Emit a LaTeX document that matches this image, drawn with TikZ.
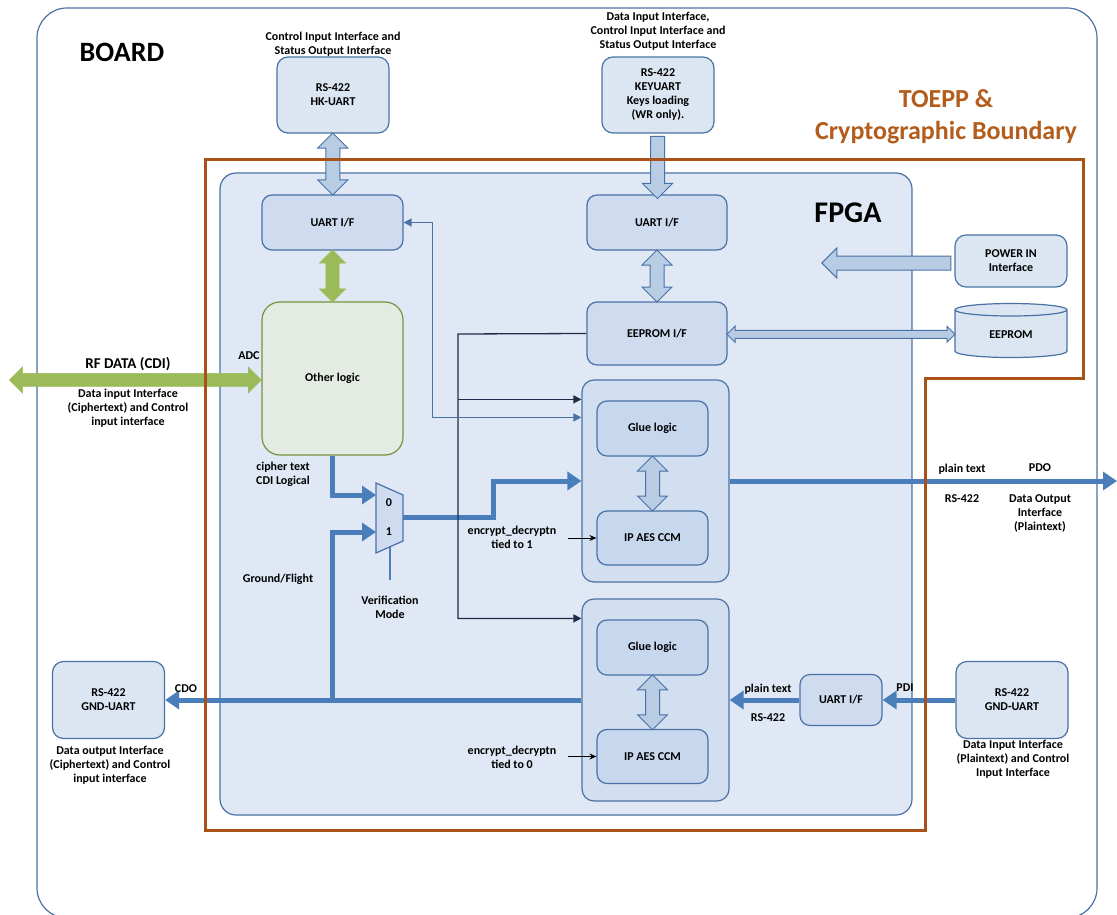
\documentclass[tikz,border=0pt]{standalone}
\usepackage{fontspec}
\setmainfont{Carlito}
\usepackage{tikz}
\usetikzlibrary{positioning, shapes.geometric, shapes.arrows, arrows.meta, calc}
\definecolor{bdBlue}{HTML}{4A72A6}
\definecolor{bdFill}{HTML}{DCE6F2}
\definecolor{bdFpga}{HTML}{DFE8F4}
\definecolor{bdIf}{HTML}{CFDCEF}
\definecolor{bdCrypto}{HTML}{D2DFF0}
\definecolor{bdGlue}{HTML}{C6D7EE}
\definecolor{bdBus}{HTML}{4A7EBB}
\definecolor{bdHollow}{HTML}{B8CCE4}
\definecolor{bdGreen}{HTML}{9BBB59}
\definecolor{bdOther}{HTML}{E3EBE3}
\definecolor{bdOtherLine}{HTML}{77933C}
\definecolor{bdOrange}{HTML}{A8521A}
\definecolor{bdOrangeText}{HTML}{B35C1C}
\definecolor{bdCtl}{HTML}{1F2D4A}
\newcommand{\lblfont}{\bfseries\fontsize{12}{14}\selectfont}
\tikzset{
  extbox/.style={
    rectangle, rounded corners=11pt,
    draw=bdBlue, line width=1.2pt,
    fill=bdFill,
    inner sep=2pt,
    minimum width=112pt, minimum height=76pt,
    align=center, font=\lblfont
  },
  ifbox/.style={
    rectangle, rounded corners=10pt,
    draw=bdBlue, line width=1.2pt,
    fill=bdIf,
    inner sep=2pt,
    minimum width=140pt, minimum height=55pt,
    align=center, font=\lblfont
  },
  cryptobox/.style={
    rectangle, rounded corners=12pt,
    draw=bdBlue, line width=1.2pt,
    fill=bdCrypto,
    minimum width=147pt, minimum height=202pt
  },
  gluebox/.style={
    rectangle, rounded corners=10pt,
    draw=bdBlue, line width=1.2pt,
    fill=bdGlue,
    minimum width=111pt, minimum height=55pt,
    align=center, font=\lblfont
  },
  lbl/.style={align=center, font=\lblfont, inner sep=0pt},
  hollowdbl/.style={
    double arrow, draw=bdBlue, fill=bdHollow, line width=1pt,
    inner xsep=0pt, inner ysep=6.5pt, double arrow head extend=8pt,
    minimum height=#1
  },
  hollowone/.style={
    single arrow, draw=bdBlue, fill=bdHollow, line width=1pt,
    inner xsep=0pt, inner ysep=6.5pt, single arrow head extend=8pt,
    minimum height=#1
  },
  greendbl/.style={
    double arrow, fill=bdGreen, draw=bdGreen,
    inner xsep=0pt, inner ysep=6.5pt, double arrow head extend=6.5pt,
    minimum height=#1
  },
  bus/.style={
    -{Triangle[length=14pt, width=18pt]},
    bdBus, line width=5pt
  },
  sig/.style={
    {Triangle[length=8pt, width=8pt]}-{Triangle[length=8pt, width=8pt]},
    bdBlue, line width=1.5pt
  },
  ctl/.style={
    -{Triangle[length=8pt, width=8pt]},
    bdCtl, line width=1.3pt
  },
  tie/.style={-{Stealth[length=7pt, width=6pt]}, black, line width=0.9pt}
}
\begin{document}
\begin{tikzpicture}[x=1pt, y=-1pt]
  \useasboundingbox (0,0) rectangle (1117,915);
  % board and fpga
  \draw[bdBlue, line width=1.2pt, rounded corners=30pt] (37,8) rectangle (1097,918);
  \node[font=\bfseries\fontsize{28}{30}\selectfont, inner sep=0pt] (board) at (122,52) {BOARD};
  \node[font=\bfseries\fontsize{26}{32}\selectfont, bdOrangeText, align=center, inner sep=0pt] (toepp) at (946,117) {TOEPP \&\\Cryptographic Boundary};
  \draw[bdBlue, fill=bdFpga, line width=1.2pt, rounded corners=16pt] (220,173) rectangle (912,815);
  \node[font=\bfseries\fontsize{30}{32}\selectfont, inner sep=0pt] (fpga) at (848,213) {FPGA};

  % outside interfaces
  \node[extbox] (hk) at (333,95) {RS-422\\HK-UART};
  \node[lbl] (hktxt) at (333,44) {Control Input Interface and\\Status Output Interface};
  \node[extbox] (key) at (658,95) {RS-422\\KEYUART\\Keys loading\\(WR only).};
  \node[lbl] (keytxt) at (658,31) {Data Input Interface,\\Control Input Interface and\\Status Output Interface};
  \node[extbox, minimum height=52pt] (power) at (1011,261) {POWER IN\\Interface};
  \node[cylinder, shape border rotate=90, aspect=0.25, draw=bdBlue, fill=bdFill, line width=1.2pt,
        minimum width=112pt, minimum height=54pt, font=\lblfont] (eeprom) at (1011,335) {EEPROM};
  \node[extbox, minimum height=77pt] (gndL) at (108.5,700) {RS-422\\GND-UART};
  \node[lbl] (gndLtxt) at (110,765) {Data output Interface\\(Ciphertext) and Control\\input interface};
  \node[extbox, minimum height=77pt] (gndR) at (1012,700) {RS-422\\GND-UART};
  \node[lbl] (gndRtxt) at (1013,759) {Data Input Interface\\(Plaintext) and Control\\Input Interface};

  % fpga blocks
  \node[ifbox, minimum width=141pt] (uartL) at (332.5,222.5) {UART I/F};
  \node[ifbox] (uartR) at (657,222.5) {UART I/F};
  \node[ifbox, minimum height=63pt] (eepif) at (657,333.5) {EEPROM I/F};
  \node[ifbox, minimum width=141pt, minimum height=153pt, fill=bdOther, draw=bdOtherLine, rounded corners=18pt] (other) at (332.5,378.5) {Other logic};
  \node[cryptobox] (crypto1) at (655.5,481) {};
  \node[gluebox] (glue1) at (652.5,428.5) {Glue logic};
  \node[gluebox, minimum height=54pt] (aes1) at (652.5,538) {IP AES CCM};
  \node[cryptobox] (crypto2) at (655.5,700) {};
  \node[gluebox] (glue2) at (652.5,647.5) {Glue logic};
  \node[gluebox, minimum height=54pt] (aes2) at (652.5,756.5) {IP AES CCM};
  \node[ifbox, minimum width=82pt, minimum height=51pt] (uartS) at (841,700) {UART I/F};

  % multiplexer
  \coordinate (muxA) at (376,483);
  \coordinate (muxB) at (403,495);
  \coordinate (muxC) at (403,541);
  \coordinate (muxD) at (376,553);
  \coordinate (mux0) at (376,495);
  \coordinate (mux1) at (376,532);
  \coordinate (muxout) at (403,517);
  \coordinate (muxsel) at (390,547);
  \draw[bdBlue, fill=bdIf, line width=1.2pt] (muxA) -- (muxB) -- (muxC) -- (muxD) -- cycle;
  \node[lbl] (in0) at (389,503) {0};
  \node[lbl] (in1) at (389,532) {1};
  \node[lbl] (vmode) at (390,607) {Verification\\Mode};
  \draw[bdBus, line width=1.5pt] (muxsel) -- ++(0,33);

  % block arrows
  \node[hollowdbl=62pt, rotate=90] (hkarr) at ($(hk.south)!0.5!(uartL.north)$) {};
  \node[hollowone=62pt, rotate=-90] (keyarr) at ($(key.south)!0.5!(uartR.north)$) {};
  \node[hollowdbl=52pt, rotate=90] (eeparr) at ($(uartR.south)!0.5!(eepif.north)$) {};
  \node[greendbl=52pt, rotate=90] (grnarr) at ($(uartL.south)!0.5!(other.north)$) {};
  \node[hollowdbl=55pt, rotate=90] (gluearr1) at ($(glue1.south)!0.5!(aes1.north)$) {};
  \node[hollowdbl=55pt, rotate=90] (gluearr2) at ($(glue2.south)!0.5!(aes2.north)$) {};
  \node[hollowdbl=228pt, inner ysep=3.5pt, double arrow head extend=4pt] (romarr) at ($(eepif.east)!0.5!(eeprom.west)$) {};
  \node[hollowone=129pt, rotate=180] (pwrarr) at ($(power.west)+(-64.5,2)$) {};
  \node[greendbl=252pt] (rfarr) at ($(other.west)+(-126,1.5)$) {};
  \node[font=\bfseries\fontsize{15}{17}\selectfont, inner sep=0pt] (rftxt) at (128,364) {RF DATA (CDI)};
  \node[lbl] (adc) at (249,356) {ADC};
  \node[lbl] (rfsub) at (128,408) {Data input Interface\\(Ciphertext) and Control\\input interface};

  % data path
  \coordinate (gf) at (332.5,700);
  \coordinate (pdo) at (1117,481);
  \draw[bus] (other.south) |- (mux0);
  \draw[bus] (gf) |- (mux1);
  \draw[bus] (muxout) -- ++(90,0) |- (crypto1.west);
  \draw[bus] (crypto1.east) -- (pdo);
  \draw[bus] (crypto2.west) -- (gndL.east);
  \draw[bus] (gndR.west) -- (uartS.east);
  \draw[bus] (uartS.west) -- (crypto2.east);
  \node[lbl] (ct) at (283,474.5) {cipher text\\CDI Logical};
  \node[lbl] (gfl) at (278,579) {Ground/Flight};
  \node[lbl] (cdo) at (186,689) {CDO};
  \node[lbl] (pt1) at (962,469) {plain text};
  \node[lbl] (pdotxt) at (1040,468) {PDO};
  \node[lbl] (rs1) at (962,499) {RS-422};
  \node[lbl] (pdosub) at (1040,513) {Data Output\\Interface\\(Plaintext)};
  \node[lbl] (pt2) at (768,689) {plain text};
  \node[lbl] (rs2) at (768,718) {RS-422};
  \node[lbl] (pdi) at (905,688) {PDI};

  % control lines
  \coordinate (tap) at (458,334);
  \coordinate (c1a) at ($(crypto1.north west)+(0,20)$);
  \coordinate (c1b) at ($(crypto1.north west)+(0,38)$);
  \coordinate (c2a) at ($(crypto2.north west)+(0,20)$);
  \draw[ctl] (eepif.west) -- (tap) |- (c2a);
  \draw[ctl] (tap |- c1a) -- (c1a);
  \draw[sig] (uartL.east) -- ++(29,0) |- (c1b);
  \node[lbl] (tie1) at (512,537) {encrypt\_decryptn\\tied to 1};
  \node[lbl] (tie0) at (512,757) {encrypt\_decryptn\\tied to 0};
  \draw[tie] ([xshift=12pt]tie1.east |- aes1.west) -- (aes1.west);
  \draw[tie] ([xshift=12pt]tie0.east |- aes2.west) -- (aes2.west);

  % boundary
  \draw[bdOrange, line width=3pt] (205,160) -- (1083,160) -- (1083,378) -- (925,378) -- (925,830) -- (205,830) -- cycle;
\end{tikzpicture}
\end{document}
